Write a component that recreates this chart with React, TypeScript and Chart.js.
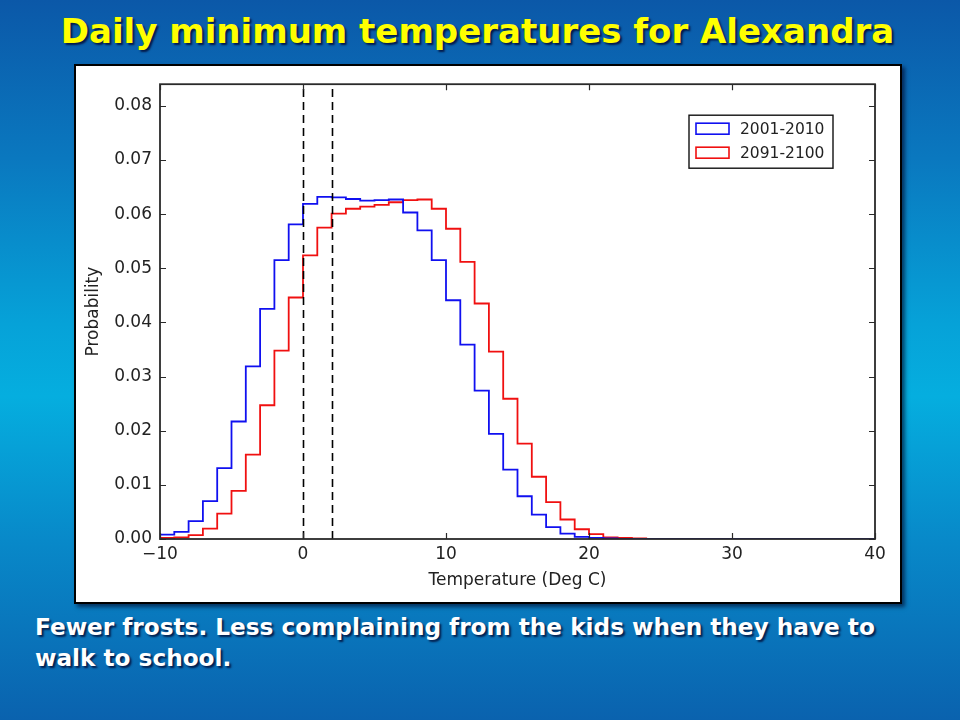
import React, { useEffect, useRef } from 'react';
import { Chart, registerables } from 'chart.js';

Chart.register(...registerables);

// Bin edges of the histogram (Deg C)
const binEdges = [
  -10, -9, -8, -7, -6, -5, -4, -3, -2, -1,
  0, 1, 2, 3, 4, 5, 6, 7, 8, 9,
  10, 11, 12, 13, 14, 15, 16, 17, 18, 19,
  20, 21, 22, 23, 24, 25, 26, 27, 28, 29,
  30, 31, 32, 33, 34, 35, 36, 37, 38, 39,
  40,
];

const seriesLabels = ['2001-2010', '2091-2100'];
const seriesColors = ['#1010f0', '#f01010'];

// Probability per 1-degree bin, 2001-2010
const probs2001 = [
  0.0008, 0.0013, 0.0033, 0.0070, 0.0131, 0.0217, 0.0319, 0.0425, 0.0515, 0.0581,
  0.0619, 0.0632, 0.0631, 0.0628, 0.0625, 0.0626, 0.0627, 0.0603, 0.0570, 0.0515,
  0.0441, 0.0359, 0.0274, 0.0194, 0.0128, 0.0079, 0.0045, 0.0022, 0.0010, 0.0004,
  0.0002, 0.0001, 0, 0, 0, 0, 0, 0, 0, 0,
  0, 0, 0, 0, 0, 0, 0, 0, 0, 0,
];

// Probability per 1-degree bin, 2091-2100
const probs2091 = [
  0.0002, 0.0003, 0.0007, 0.0019, 0.0047, 0.0089, 0.0156, 0.0247, 0.0348, 0.0446,
  0.0524, 0.0575, 0.0601, 0.0610, 0.0614, 0.0617, 0.0622, 0.0626, 0.0627, 0.0610,
  0.0573, 0.0512, 0.0435, 0.0346, 0.0259, 0.0176, 0.0115, 0.0068, 0.0036, 0.0018,
  0.0009, 0.0003, 0.0002, 0.0001, 0, 0, 0, 0, 0, 0,
  0, 0, 0, 0, 0, 0, 0, 0, 0, 0,
];

// Vertical dashed reference lines (Deg C)
const markerLines = [0, 2];

const xTicks = [-10, 0, 10, 20, 30, 40];
const yTicks = [0, 0.01, 0.02, 0.03, 0.04, 0.05, 0.06, 0.07, 0.08];

const xRange = [-10, 40];
const yRange = [0, 0.084];

const titleText = 'Daily minimum temperatures for Alexandra';
const captionLines = [
  'Fewer frosts. Less complaining from the kids when they have to',
  'walk to school.',
];

function stepPoints(values: number[]) {
  const pts: { x: number; y: number }[] = [{ x: binEdges[0], y: 0 }];
  for (let i = 0; i < values.length; i++) {
    pts.push({ x: binEdges[i], y: values[i] });
  }
  pts.push({ x: binEdges[binEdges.length - 1], y: 0 });
  return pts;
}

const AXIS_COLOR = '#2a2a2a';
const FONT = '"DejaVu Sans", "Liberation Sans", sans-serif';

const decorPlugin = {
  id: 'decor',
  afterDatasetsDraw(chart: any) {
    const { ctx, chartArea, scales } = chart;
    const { left, right, top, bottom } = chartArea;
    const xs = scales.x;
    const ys = scales.y;
    ctx.save();

    // dashed vertical lines
    ctx.strokeStyle = '#000';
    ctx.lineWidth = 1.6;
    ctx.setLineDash([8, 5]);
    markerLines.forEach((v) => {
      const px = Math.round(xs.getPixelForValue(v)) + 0.5;
      ctx.beginPath();
      ctx.moveTo(px, bottom);
      ctx.lineTo(px, top);
      ctx.stroke();
    });
    ctx.setLineDash([]);

    // inward ticks on all four sides
    ctx.strokeStyle = AXIS_COLOR;
    ctx.lineWidth = 1.2;
    const tl = 6;
    xs.ticks.forEach((t: any) => {
      const px = Math.round(xs.getPixelForValue(t.value)) + 0.5;
      ctx.beginPath();
      ctx.moveTo(px, bottom);
      ctx.lineTo(px, bottom - tl);
      ctx.moveTo(px, top);
      ctx.lineTo(px, top + tl);
      ctx.stroke();
    });
    ys.ticks.forEach((t: any) => {
      const py = Math.round(ys.getPixelForValue(t.value)) + 0.5;
      ctx.beginPath();
      ctx.moveTo(left, py);
      ctx.lineTo(left + tl, py);
      ctx.moveTo(right, py);
      ctx.lineTo(right - tl, py);
      ctx.stroke();
    });

    // frame
    ctx.lineWidth = 1.8;
    ctx.strokeRect(left, top, right - left, bottom - top);

    // legend
    const boxW = 144;
    const boxH = 53;
    const bx = right - 42 - boxW;
    const by = top + 31;
    ctx.fillStyle = '#fff';
    ctx.fillRect(bx, by, boxW, boxH);
    ctx.strokeStyle = '#111';
    ctx.lineWidth = 1.4;
    ctx.strokeRect(bx, by, boxW, boxH);
    ctx.font = `15.5px ${FONT}`;
    ctx.textBaseline = 'middle';
    ctx.textAlign = 'left';
    chart.data.datasets.forEach((ds: any, i: number) => {
      const cy = by + 13.5 + i * 24;
      ctx.strokeStyle = ds.borderColor;
      ctx.lineWidth = 1.6;
      ctx.strokeRect(bx + 7, cy - 5.5, 33, 11);
      ctx.fillStyle = '#222';
      ctx.fillText(ds.label, bx + 51, cy + 1);
    });

    ctx.restore();
  },
};

export default function App() {
  const canvasRef = useRef<HTMLCanvasElement | null>(null);

  useEffect(() => {
    if (!canvasRef.current) return;
    const chart = new Chart(canvasRef.current, {
      type: 'line',
      data: {
        datasets: [
          {
            label: seriesLabels[0],
            data: stepPoints(probs2001),
            borderColor: seriesColors[0],
            borderWidth: 1.8,
            pointRadius: 0,
            fill: false,
            stepped: 'before',
          },
          {
            label: seriesLabels[1],
            data: stepPoints(probs2091),
            borderColor: seriesColors[1],
            borderWidth: 1.8,
            pointRadius: 0,
            fill: false,
            stepped: 'before',
          },
        ],
      },
      options: {
        animation: false,
        responsive: false,
        maintainAspectRatio: false,
        layout: { padding: { top: 14, right: 25, left: 0, bottom: 0 } },
        plugins: {
          legend: { display: false },
          tooltip: { enabled: false },
        },
        scales: {
          x: {
            type: 'linear',
            min: xRange[0],
            max: xRange[1],
            afterBuildTicks: (s: any) => {
              s.ticks = xTicks.map((v) => ({ value: v }));
            },
            afterFit: (s: any) => {
              s.height = 63;
            },
            ticks: {
              padding: 5,
              color: '#222',
              font: { family: FONT, size: 17 },
              maxRotation: 0,
              autoSkip: false,
              callback: (v: any) => (Number(v) < 0 ? '\u2212' + Math.abs(Number(v)) : String(v)),
            },
            grid: { display: false, drawTicks: false },
            border: { display: false },
            title: {
              display: true,
              text: 'Temperature (Deg C)',
              color: '#222',
              font: { family: FONT, size: 17 },
              padding: { top: 0, bottom: 11 },
            },
          },
          y: {
            type: 'linear',
            min: yRange[0],
            max: yRange[1],
            afterBuildTicks: (s: any) => {
              s.ticks = yTicks.map((v) => ({ value: v }));
            },
            afterFit: (s: any) => {
              s.width = 84;
            },
            ticks: {
              padding: 8,
              color: '#222',
              font: { family: FONT, size: 17 },
              callback: (v: any) => Number(v).toFixed(2),
            },
            grid: { display: false, drawTicks: false },
            border: { display: false },
            title: {
              display: true,
              text: 'Probability',
              color: '#222',
              font: { family: FONT, size: 17 },
              padding: { top: 7, bottom: 0 },
            },
          },
        },
      },
      plugins: [decorPlugin],
    } as any);
    return () => chart.destroy();
  }, []);

  return (
    <div
      style={{
        position: 'fixed',
        left: 0,
        top: 0,
        width: 960,
        height: 720,
        overflow: 'hidden',
        background:
          'linear-gradient(to bottom, #0b58a8 0%, #0a78bf 22%, #06a2d8 45%, #05aedf 55%, #0889c9 75%, #0a62ae 100%)',
      }}
    >
      <div
        style={{
          position: 'absolute',
          left: 0,
          top: 11,
          width: 955,
          textAlign: 'center',
          color: '#ffff00',
          fontFamily: FONT,
          fontWeight: 'bold',
          fontSize: 34,
          lineHeight: '40px',
          textShadow: '2px 2px 2px rgba(0,0,40,0.75)',
          whiteSpace: 'nowrap',
        }}
      >
        {titleText}
      </div>
      <div
        style={{
          position: 'absolute',
          left: 74,
          top: 64,
          width: 824,
          height: 536,
          border: '2px solid #000',
          background: '#fff',
          boxShadow: '3px 3px 4px rgba(0,0,30,0.6)',
        }}
      >
        <canvas
          ref={canvasRef}
          width={824}
          height={536}
          style={{ display: 'block', width: 824, height: 536 }}
        />
      </div>
      <div
        style={{
          position: 'absolute',
          left: 35,
          top: 611,
          color: '#fff',
          fontFamily: FONT,
          fontWeight: 'bold',
          fontSize: 23.2,
          lineHeight: '31px',
          textShadow: '2px 2px 2px rgba(0,0,40,0.75)',
          whiteSpace: 'nowrap',
        }}
      >
        {captionLines.map((l, i) => (
          <div key={i}>{l}</div>
        ))}
      </div>
    </div>
  );
}
